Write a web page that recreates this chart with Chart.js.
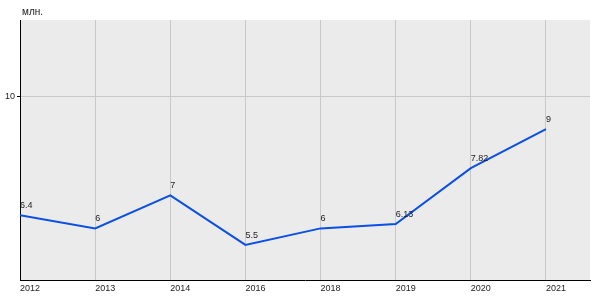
<!DOCTYPE html>
<html>
<head>
<meta charset="utf-8">
<script src="https://cdn.jsdelivr.net/npm/chart.js"></script>
<style>
  html, body { margin: 0; padding: 0; background: #fff; }
  #wrap { width: 600px; height: 300px; position: relative; }
</style>
</head>
<body>
<div id="wrap"><canvas id="chart"></canvas></div>
<script>
// data
const years  = ['2012', '2013', '2014', '2016', '2018', '2019', '2020', '2021'];
const values = [6.4, 6, 7, 5.5, 6, 6.13, 7.82, 9];
const yTicks = [10];
const unitLabel = 'млн.';

const FONT = '"Liberation Sans", Arial, sans-serif';

// grey plot background + unit label + point labels
const decor = {
  id: 'decor',
  beforeDraw(chart) {
    const { ctx, chartArea: a } = chart;
    ctx.save();
    ctx.fillStyle = '#ebebeb';
    ctx.fillRect(a.left, a.top, a.right - a.left, a.bottom - a.top);
    ctx.restore();
  },
  afterDraw(chart) {
    const { ctx, chartArea: a } = chart;
    ctx.save();
    ctx.fillStyle = '#222';
    ctx.textAlign = 'left';
    ctx.textBaseline = 'bottom';
    ctx.font = '10px ' + FONT;
    ctx.fillText(unitLabel, a.left + 2, a.top - 3);
    ctx.font = '9px ' + FONT;
    const meta = chart.getDatasetMeta(0);
    meta.data.forEach((pt, i) => {
      ctx.fillText(String(values[i]), pt.x, pt.y - 5);
    });
    ctx.restore();
  }
};

new Chart(document.getElementById('chart'), {
  type: 'line',
  data: {
    datasets: [{
      data: values.map((v, i) => ({ x: i, y: v })),
      borderColor: '#0a4fe6',
      borderWidth: 2,
      pointRadius: 0,
      tension: 0,
      fill: false
    }]
  },
  options: {
    responsive: true,
    maintainAspectRatio: false,
    animation: false,
    layout: { padding: { top: 20, right: 10, bottom: 0, left: 0 } },
    plugins: { legend: { display: false }, tooltip: { enabled: false } },
    scales: {
      x: {
        type: 'linear',
        min: 0,
        max: 7.586,
        afterBuildTicks: s => { s.ticks = years.map((_, i) => ({ value: i })); },
        afterFit: s => { s.height = 20; },
        ticks: {
          callback: v => years[v] ?? '',
          align: 'start',
          maxRotation: 0,
          autoSkip: false,
          padding: 3,
          color: '#222',
          font: { family: FONT, size: 9 }
        },
        grid: { color: '#c8c8c8', lineWidth: 1, drawTicks: false },
        border: { color: '#000', width: 1 }
      },
      y: {
        min: 4.44,
        max: 12.3,
        afterBuildTicks: s => { s.ticks = yTicks.map(v => ({ value: v })); },
        afterFit: s => { s.width = 20; },
        ticks: {
          padding: 2,
          color: '#222',
          font: { family: FONT, size: 9 }
        },
        grid: { color: '#c8c8c8', lineWidth: 1, tickLength: 3, tickColor: '#000' },
        border: { color: '#000', width: 1 }
      }
    }
  },
  plugins: [decor]
});
</script>
</body>
</html>
